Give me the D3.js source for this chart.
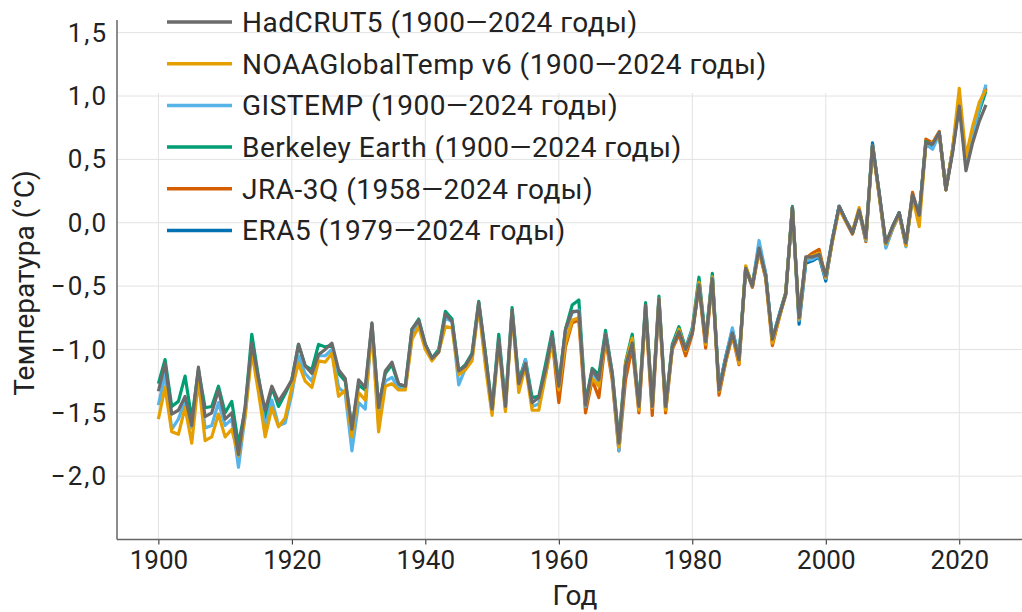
<!DOCTYPE html>
<html>
<head>
<meta charset="utf-8">
<script src="https://cdn.jsdelivr.net/npm/d3@7"></script>
<style>
  html, body { margin: 0; padding: 0; background: #ffffff; }
  svg { display: block; font-family: Roboto, "Liberation Sans", sans-serif; }
</style>
</head>
<body>
<div id="chart"></div>
<script>
// Years and series values (°C)
var years = d3.range(1900, 2025);

var hadcrut5 = [
  -1.33, -1.11, -1.51, -1.48, -1.37, -1.60, -1.14, -1.53, -1.50, -1.32,
  -1.55, -1.50, -1.83, -1.45, -0.95, -1.23, -1.48, -1.29, -1.41, -1.33,
  -1.24, -0.96, -1.13, -1.19, -1.04, -1.00, -0.95, -1.16, -1.23, -1.63,
  -1.24, -1.30, -0.79, -1.46, -1.17, -1.10, -1.27, -1.29, -0.84, -0.77,
  -0.96, -1.07, -1.02, -0.72, -0.78, -1.17, -1.13, -1.04, -0.63, -1.04,
  -1.47, -0.92, -1.45, -0.69, -1.27, -1.11, -1.42, -1.38, -1.16, -0.89,
  -1.29, -0.84, -0.70, -0.70, -1.44, -1.16, -1.24, -0.88, -1.19, -1.74,
  -1.13, -0.95, -1.45, -0.65, -1.45, -0.60, -1.45, -0.98, -0.86, -1.00,
  -0.87, -0.49, -0.94, -0.44, -1.32, -1.08, -0.87, -1.08, -0.36, -0.50,
  -0.20, -0.42, -0.92, -0.74, -0.56, 0.12, -0.75, -0.27, -0.27, -0.25,
  -0.42, -0.13, 0.13, 0.02, -0.08, 0.10, -0.12, 0.61, 0.24, -0.16,
  -0.03, 0.08, -0.16, 0.22, 0.06, 0.63, 0.62, 0.71, 0.26, 0.55,
  0.92, 0.41, 0.63, 0.80, 0.93
];

var noaa = [
  -1.55, -1.30, -1.65, -1.67, -1.46, -1.74, -1.24, -1.72, -1.69, -1.51,
  -1.69, -1.63, -1.84, -1.53, -1.02, -1.34, -1.69, -1.46, -1.61, -1.54,
  -1.30, -1.11, -1.25, -1.30, -1.09, -1.10, -1.03, -1.37, -1.32, -1.69,
  -1.34, -1.40, -0.84, -1.65, -1.29, -1.27, -1.32, -1.32, -0.92, -0.82,
  -1.00, -1.09, -1.02, -0.82, -0.83, -1.20, -1.16, -1.09, -0.66, -1.13,
  -1.52, -0.95, -1.49, -0.71, -1.34, -1.13, -1.48, -1.48, -1.21, -0.94,
  -1.32, -0.95, -0.77, -0.75, -1.44, -1.23, -1.29, -0.90, -1.21, -1.77,
  -1.11, -0.91, -1.48, -0.67, -1.46, -0.60, -1.48, -0.99, -0.84, -1.01,
  -0.86, -0.47, -0.96, -0.43, -1.33, -1.10, -0.88, -1.11, -0.34, -0.50,
  -0.22, -0.43, -0.95, -0.76, -0.55, 0.11, -0.76, -0.28, -0.26, -0.24,
  -0.43, -0.15, 0.11, 0.01, -0.07, 0.12, -0.13, 0.60, 0.22, -0.17,
  -0.04, 0.07, -0.18, 0.20, -0.03, 0.62, 0.63, 0.70, 0.26, 0.58,
  1.06, 0.52, 0.76, 0.95, 1.05
];

var gistemp = [
  -1.44, -1.20, -1.63, -1.55, -1.41, -1.62, -1.18, -1.62, -1.60, -1.42,
  -1.60, -1.55, -1.93, -1.52, -0.98, -1.28, -1.62, -1.40, -1.60, -1.58,
  -1.35, -1.05, -1.19, -1.25, -1.05, -1.05, -1.00, -1.30, -1.35, -1.80,
  -1.42, -1.47, -0.83, -1.60, -1.25, -1.22, -1.31, -1.31, -0.90, -0.80,
  -0.98, -1.08, -1.02, -0.75, -0.78, -1.28, -1.15, -1.07, -0.65, -1.10,
  -1.50, -0.93, -1.47, -0.70, -1.30, -1.08, -1.45, -1.43, -1.18, -0.90,
  -1.30, -0.86, -0.71, -0.69, -1.45, -1.18, -1.26, -0.88, -1.20, -1.80,
  -1.13, -0.94, -1.46, -0.66, -1.46, -0.60, -1.47, -0.98, -0.85, -1.00,
  -0.84, -0.48, -0.93, -0.43, -1.31, -1.06, -0.83, -1.08, -0.36, -0.50,
  -0.14, -0.40, -0.92, -0.73, -0.56, 0.12, -0.77, -0.30, -0.29, -0.26,
  -0.44, -0.12, 0.13, 0.02, -0.07, 0.10, -0.14, 0.61, 0.23, -0.20,
  -0.05, 0.07, -0.19, 0.21, 0.06, 0.62, 0.58, 0.70, 0.27, 0.57,
  0.97, 0.47, 0.70, 0.90, 1.09
];

var berkeley = [
  -1.27, -1.08, -1.45, -1.41, -1.21, -1.55, -1.16, -1.46, -1.45, -1.29,
  -1.50, -1.41, -1.75, -1.47, -0.88, -1.22, -1.54, -1.30, -1.45, -1.35,
  -1.24, -0.96, -1.13, -1.16, -0.96, -0.98, -0.97, -1.19, -1.25, -1.62,
  -1.28, -1.32, -0.80, -1.45, -1.19, -1.12, -1.28, -1.29, -0.84, -0.76,
  -0.96, -1.07, -1.00, -0.70, -0.76, -1.17, -1.12, -1.03, -0.62, -1.03,
  -1.47, -0.88, -1.43, -0.67, -1.25, -1.08, -1.38, -1.37, -1.12, -0.86,
  -1.27, -0.84, -0.65, -0.61, -1.42, -1.15, -1.20, -0.85, -1.18, -1.72,
  -1.10, -0.88, -1.44, -0.63, -1.44, -0.58, -1.45, -0.96, -0.82, -0.99,
  -0.83, -0.43, -0.93, -0.40, -1.31, -1.06, -0.85, -1.07, -0.35, -0.49,
  -0.19, -0.41, -0.92, -0.73, -0.55, 0.13, -0.75, -0.29, -0.28, -0.25,
  -0.43, -0.13, 0.13, 0.02, -0.08, 0.10, -0.12, 0.61, 0.23, -0.17,
  -0.03, 0.08, -0.17, 0.21, 0.05, 0.64, 0.61, 0.71, 0.27, 0.57,
  0.96, 0.49, 0.70, 0.88, 1.04
];

// JRA-3Q starts in 1958
var jra3q = [
  -1.20, -0.92,
  -1.42, -0.98, -0.79, -0.77, -1.50, -1.24, -1.38, -0.92, -1.24, -1.80,
  -1.24, -0.98, -1.50, -0.70, -1.52, -0.62, -1.50, -1.00, -0.88, -1.05,
  -0.88, -0.50, -0.99, -0.45, -1.36, -1.10, -0.89, -1.12, -0.36, -0.51,
  -0.22, -0.44, -0.97, -0.75, -0.57, 0.12, -0.76, -0.28, -0.24, -0.21,
  -0.44, -0.14, 0.12, 0.01, -0.09, 0.09, -0.15, 0.60, 0.21, -0.19,
  -0.05, 0.06, -0.17, 0.24, 0.05, 0.66, 0.63, 0.72, 0.26, 0.58,
  0.95, 0.48, 0.72, 0.92, 1.07
];

// ERA5 starts in 1979
var era5 = [
  -1.00,
  -0.86, -0.48, -0.94, -0.43, -1.31, -1.07, -0.85, -1.08, -0.36, -0.50,
  -0.18, -0.41, -0.93, -0.74, -0.56, 0.12, -0.80, -0.32, -0.30, -0.27,
  -0.46, -0.13, 0.13, 0.02, -0.08, 0.10, -0.13, 0.63, 0.23, -0.18,
  -0.04, 0.08, -0.18, 0.22, 0.06, 0.63, 0.60, 0.71, 0.26, 0.57,
  0.96, 0.46, 0.70, 0.90, 1.06
];

var xTicks = [1900, 1920, 1940, 1960, 1980, 2000, 2020];
var yTicks = [-2.0, -1.5, -1.0, -0.5, 0.0, 0.5, 1.0, 1.5];

// Series list in legend order
var series = [
  { name: 'HadCRUT5 (1900\u20142024 годы)', start: 1900, values: hadcrut5, color: '#6b6b6b' },
  { name: 'NOAAGlobalTemp v6 (1900\u20142024 годы)', start: 1900, values: noaa, color: '#e69f00' },
  { name: 'GISTEMP (1900\u20142024 годы)', start: 1900, values: gistemp, color: '#56b4e9' },
  { name: 'Berkeley Earth (1900\u20142024 годы)', start: 1900, values: berkeley, color: '#009e73' },
  { name: 'JRA-3Q (1958\u20142024 годы)', start: 1958, values: jra3q, color: '#d55e00' },
  { name: 'ERA5 (1979\u20142024 годы)', start: 1979, values: era5, color: '#0072b2' }
];

var width = 1022;
var height = 612;
var left = 117;
var bottom = 539.5;

var x = d3.scaleLinear()
    .domain([1893.8, 2029.4])
    .range([left, width]);

var y = d3.scaleLinear()
    .domain([-2.5, 1.6])
    .range([bottom, 20]);

var svg = d3.select('#chart')
    .append('svg')
    .attr('width', width)
    .attr('height', height);

// Grid
svg.append('g')
    .selectAll('line')
    .data(yTicks)
    .enter()
    .append('line')
    .attr('x1', left)
    .attr('x2', width)
    .attr('y1', function (d) { return y(d); })
    .attr('y2', function (d) { return y(d); })
    .style('stroke', '#e2e2e2')
    .style('stroke-width', 1);

svg.append('g')
    .selectAll('line')
    .data(xTicks)
    .enter()
    .append('line')
    .attr('x1', function (d) { return x(d); })
    .attr('x2', function (d) { return x(d); })
    .attr('y1', 93)
    .attr('y2', bottom)
    .style('stroke', '#e2e2e2')
    .style('stroke-width', 1);

// Lines, HadCRUT5 on top
var line = d3.line()
    .x(function (d) { return x(d[0]); })
    .y(function (d) { return y(d[1]); });

series.slice().reverse().forEach(function (s) {
    var pts = s.values.map(function (v, i) { return [s.start + i, v]; });
    svg.append('path')
        .datum(pts)
        .attr('d', line)
        .style('fill', 'none')
        .style('stroke', s.color)
        .style('stroke-width', 3.2)
        .style('stroke-linejoin', 'round');
});

// Axes
var xAxis = svg.append('g')
    .attr('transform', 'translate(0,' + bottom + ')')
    .call(d3.axisBottom(x).tickValues(xTicks).tickSize(5).tickPadding(6).tickFormat(d3.format('d')));
xAxis.select('.domain').remove();
xAxis.selectAll('line').style('stroke', '#222');
xAxis.selectAll('text')
    .style('font-family', 'Roboto, sans-serif')
    .style('font-size', '26px')
    .style('fill', '#222');

svg.append('line')
    .attr('x1', left)
    .attr('x2', width)
    .attr('y1', bottom)
    .attr('y2', bottom)
    .style('stroke', '#666')
    .style('stroke-width', 1.5);

svg.append('line')
    .attr('x1', left)
    .attr('x2', left)
    .attr('y1', 20)
    .attr('y2', bottom)
    .style('stroke', '#666')
    .style('stroke-width', 1.5);

var fmt = function (d) {
    return d3.format('.1f')(d).replace('-', '\u2212').replace('.', ',');
};

svg.append('g')
    .selectAll('text')
    .data(yTicks)
    .enter()
    .append('text')
    .attr('x', 108)
    .attr('y', function (d) { return y(d); })
    .attr('dy', '0.35em')
    .style('text-anchor', 'end')
    .style('font-size', '26px')
    .style('letter-spacing', '2px')
    .style('fill', '#222')
    .text(fmt);

// Axis titles
svg.append('text')
    .attr('x', 575)
    .attr('y', 605)
    .style('text-anchor', 'middle')
    .style('font-size', '28px')
    .style('fill', '#222')
    .text('Год');

svg.append('text')
    .attr('transform', 'translate(34,283) rotate(-90)')
    .style('text-anchor', 'middle')
    .style('font-size', '28px')
    .style('fill', '#222')
    .text('Температура (°C)');

// Legend
var legend = svg.append('g');
series.forEach(function (s, i) {
    var ly = 22 + i * 41.7;
    legend.append('line')
        .attr('x1', 167)
        .attr('x2', 232)
        .attr('y1', ly)
        .attr('y2', ly)
        .style('stroke', s.color)
        .style('stroke-width', 3.5);
    legend.append('text')
        .attr('x', 242)
        .attr('y', ly)
        .attr('dy', '0.35em')
        .style('font-size', '28px')
        .style('letter-spacing', '0.5px')
        .style('fill', '#222')
        .text(s.name);
});
</script>
</body>
</html>
